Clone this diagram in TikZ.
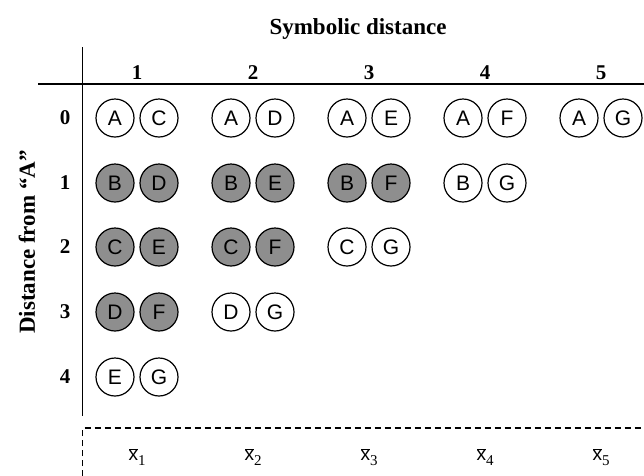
\documentclass[tikz,border=0pt]{standalone}
\usepackage{fontspec}
\setmainfont{Liberation Serif}
\setsansfont{Liberation Sans}
\definecolor{shade}{HTML}{8E8E8E}
\tikzset{
  ball/.style={circle,draw=black,line width=1.2pt,minimum size=38pt,inner sep=0pt,
    font=\sffamily\fontsize{21}{21}\selectfont,fill=white},
  gball/.style={ball,fill=shade},
  hdr/.style={font=\bfseries\fontsize{21}{21}\selectfont,inner sep=0pt},
  lab/.style={font=\bfseries\fontsize{23}{23}\selectfont,inner sep=0pt},
  axis/.style={line width=1.4pt},
  dashline/.style={line width=1.2pt,dash pattern=on 6pt off 4pt},
  xbar/.style={inner sep=0pt}
}
\newcommand{\xb}[1]{{\sffamily\fontsize{19}{19}\selectfont\makebox[0pt][l]{\hspace{0.5pt}\rule[10.5pt]{8.5pt}{0.9pt}}x}{\fontsize{15}{15}\selectfont\raisebox{-5pt}{#1}}}
\begin{document}
\begin{tikzpicture}[x=1pt,y=-1pt]
\useasboundingbox (0,0) rectangle (644,475);
% titles
\node[lab] (title) at (358,29) {Symbolic distance};
\node[lab,rotate=90] (ylab) at (27,242) {Distance from “A”};
% axes
\coordinate (vt) at (82.7,47);
\coordinate (vb) at (82.7,416);
\coordinate (hl) at (38,84);
\coordinate (hr) at (644,84);
\draw[axis] (vt) -- (vb);
\draw[axis] (hl) -- (hr);
% column headers
\foreach \i/\x in {1/137,2/253,3/369,4/485,5/601}{
  \node[hdr] (c\i) at (\x,73) {\i};
  \node[xbar] (xb\i) at (\x,457) {\xb{\i}};
}
% row labels
\foreach \r/\y in {0/118,1/183,2/247,3/312,4/377}{
  \node[hdr] (r\r) at (65,\y) {\r};
}
% row 0
\foreach \i/\x/\b in {1/137/C,2/253/D,3/369/E,4/485/F,5/601/G}{
  \node[ball] (a0\i) at (\x-22,118) {A};
  \node[ball] (b0\i) at (\x+22,118) {\b};
}
% row 1
\node[gball] (a11) at (115,183) {B}; \node[gball] (b11) at (159,183) {D};
\node[gball] (a12) at (231,183) {B}; \node[gball] (b12) at (275,183) {E};
\node[gball] (a13) at (347,183) {B}; \node[gball] (b13) at (391,183) {F};
\node[ball]  (a14) at (463,183) {B}; \node[ball]  (b14) at (507,183) {G};
% row 2
\node[gball] (a21) at (115,247) {C}; \node[gball] (b21) at (159,247) {E};
\node[gball] (a22) at (231,247) {C}; \node[gball] (b22) at (275,247) {F};
\node[ball]  (a23) at (347,247) {C}; \node[ball]  (b23) at (391,247) {G};
% row 3
\node[gball] (a31) at (115,312) {D}; \node[gball] (b31) at (159,312) {F};
\node[ball]  (a32) at (231,312) {D}; \node[ball]  (b32) at (275,312) {G};
% row 4
\node[ball] (a41) at (115,377) {E}; \node[ball] (b41) at (159,377) {G};
% dashed box
\coordinate (dtl) at (82.7,428);
\coordinate (dbl) at (82.7,476);
\coordinate (dtr) at (645,428);
\draw[dashline] (dbl) -- (dtl) -- (dtr);
\end{tikzpicture}
\end{document}
